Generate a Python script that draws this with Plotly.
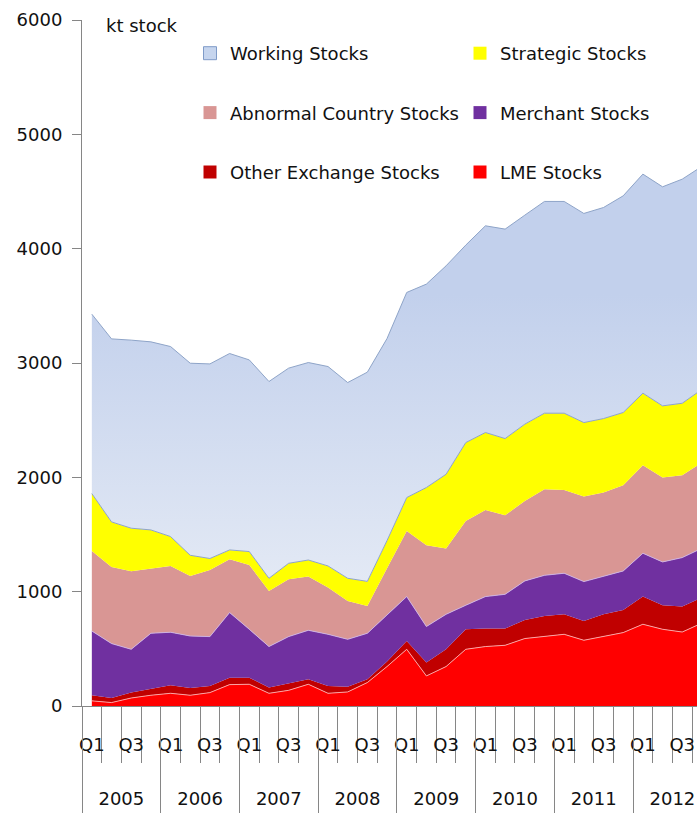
import plotly.graph_objects as go

# ---------------- data (kt) ----------------
years = ["2005", "2006", "2007", "2008", "2009", "2010", "2011", "2012"]
quarters = ["Q1", "Q2", "Q3", "Q4"]

lme_stocks = [45, 30, 70, 94, 111, 94, 117, 187, 190, 111, 137, 190, 111, 123, 205, 345,
              496, 263, 345, 496, 520, 531, 590, 607, 627, 575, 607, 642, 715, 671, 647, 725]
other_exchange = [50, 40, 47, 58, 70, 63, 58, 61, 58, 50, 62, 43, 64, 46, 30, 45,
                  73, 117, 151, 175, 157, 146, 162, 180, 175, 169, 195, 198, 242, 210, 223, 225]
merchant = [561, 476, 379, 484, 464, 455, 432, 569, 423, 359, 408, 429, 452, 414, 401, 406,
            388, 315, 306, 210, 280, 300, 342, 356, 359, 344, 335, 341, 379, 379, 428, 430]
abnormal_country = [700, 670, 682, 566, 580, 525, 583, 466, 563, 486, 501, 470, 409, 336, 239, 409,
                    574, 711, 575, 738, 758, 691, 700, 753, 729, 744, 730, 750, 770, 738, 720, 750]
strategic = [502, 394, 377, 338, 257, 181, 100, 82, 117, 111, 140, 145, 189, 198, 215, 242,
             292, 505, 650, 685, 677, 671, 671, 665, 671, 647, 647, 636, 630, 627, 630, 640]
working = [1569, 1601, 1645, 1645, 1662, 1680, 1702, 1718, 1676, 1721, 1707, 1727, 1744, 1712, 1830, 1767,
           1794, 1779, 1823, 1727, 1808, 1832, 1828, 1852, 1852, 1829, 1846, 1895, 1916, 1916, 1960, 1950]

y_ticks = [0, 1000, 2000, 3000, 4000, 5000, 6000]

# ---------------- derived categories ----------------
cat_year = [y for y in years for q in quarters]
cat_quarter = [q for y in years for q in quarters]
idx = list(range(len(cat_quarter)))

q_tickvals = [i for i, q in enumerate(cat_quarter) if q in ("Q1", "Q3")]
q_ticktext = [cat_quarter[i] for i in q_tickvals]
boundaries = [i - 0.5 for i in idx] + [len(idx) - 0.5]
year_centers = [sum(i for i in idx if cat_year[i] == y) / 4 for y in years]
year_bounds = [i - 0.5 for i in idx if cat_quarter[i] == "Q1"] + [len(idx) - 0.5]

FONT = "DejaVu Sans"
FS = 18
TXT = "#111111"
AX = "#868686"
BORDER = "#8EA4C8"

series = [
    ("LME Stocks", lme_stocks, "#FF0000", dict(color="rgba(255,175,175,0.9)", width=1)),
    ("Other Exchange Stocks", other_exchange, "#C00000", dict(color="#C00000", width=0)),
    ("Merchant Stocks", merchant, "#7030A0", dict(color="rgba(205,180,230,0.9)", width=1)),
    ("Abnormal Country Stocks", abnormal_country, "#D99694", dict(color="#D99694", width=0)),
    ("Strategic Stocks", strategic, "#FFFF00", dict(color=BORDER, width=1)),
    ("Working Stocks", working, "#C6D4EE", dict(color=BORDER, width=1)),
]

fig = go.Figure()
for name, vals, col, line in series:
    kw = {}
    if name == "Working Stocks":
        kw["fillgradient"] = dict(type="vertical", start=1000, stop=3600,
                                  colorscale=[[0, "#E4EAF5"], [1, "#C2D0EC"]])
    else:
        kw["fillcolor"] = col
    fig.add_trace(go.Scatter(
        x=idx, y=vals, name=name, stackgroup="one", mode="lines",
        line=line, showlegend=False, hoverinfo="skip", **kw))

# legend entries (two columns)
legend_items = [
    ("Working Stocks", "#C6D5EE", "legend", dict(color="#7F9BC8", width=1)),
    ("Strategic Stocks", "#FFFF00", "legend2", dict(width=0)),
    ("Abnormal Country Stocks", "#D99694", "legend", dict(width=0)),
    ("Merchant Stocks", "#7030A0", "legend2", dict(width=0)),
    ("Other Exchange Stocks", "#C00000", "legend", dict(width=0)),
    ("LME Stocks", "#FF0000", "legend2", dict(width=0)),
]
for name, col, lg, mline in legend_items:
    fig.add_trace(go.Scatter(
        x=[None], y=[None], mode="markers", name=name, legend=lg, legendgroup=name,
        marker=dict(symbol="square", size=13, color=col, line=mline),
        hoverinfo="skip"))

# dummy traces for the extra category axes
for ax in ["x2", "x3", "x4"]:
    fig.add_trace(go.Scatter(x=[None], y=[None], xaxis=ax, yaxis="y",
                             showlegend=False, hoverinfo="skip"))

R = [-0.5, 30.75]
common = dict(range=R, autorange=False, showgrid=False, zeroline=False,
              fixedrange=True, automargin=False)

PW, PH, L, B = 615, 686, 82, 107

fig.update_layout(
    width=697, height=813,
    margin=dict(l=L, r=0, t=20, b=B, autoexpand=False),
    paper_bgcolor="white", plot_bgcolor="white",
    font=dict(family=FONT, size=FS, color=TXT),
    xaxis=dict(**common, tickmode="array", tickvals=boundaries,
               ticktext=["" for _ in boundaries],
               ticks="outside", ticklen=56, tickwidth=1, tickcolor=AX,
               showline=True, linecolor=AX, linewidth=1),
    xaxis2=dict(**common, overlaying="x", anchor="y", side="bottom",
                tickmode="array", tickvals=q_tickvals, ticktext=q_ticktext,
                ticks="outside", ticklen=22, tickcolor="rgba(0,0,0,0)",
                showline=False, tickfont=dict(size=FS, color=TXT)),
    xaxis3=dict(**common, overlaying="x", anchor="y", side="bottom",
                tickmode="array", tickvals=year_bounds,
                ticktext=["" for _ in year_bounds],
                ticks="outside", ticklen=115, tickwidth=1, tickcolor=AX,
                showline=False),
    xaxis4=dict(**common, overlaying="x", anchor="y", side="bottom",
                tickmode="array", tickvals=year_centers, ticktext=years,
                ticks="outside", ticklen=76, tickcolor="rgba(0,0,0,0)",
                showline=False, tickfont=dict(size=FS, color=TXT)),
    yaxis=dict(range=[0, 6000], autorange=False, tickmode="array", tickvals=y_ticks,
               showgrid=False, zeroline=False, fixedrange=True, automargin=False,
               ticks="outside", ticklen=9, tickwidth=1, tickcolor=AX,
               showline=True, linecolor=AX, linewidth=1,
               ticklabelstandoff=6, tickfont=dict(size=FS, color=TXT)),
    legend=dict(x=(190 - L) / PW, y=(813 - B - 35) / PH,
                xanchor="left", yanchor="top", orientation="v",
                traceorder="grouped", tracegroupgap=33, bgcolor="rgba(0,0,0,0)",
                font=dict(size=FS, color=TXT), itemsizing="trace"),
    legend2=dict(x=(460 - L) / PW, y=(813 - B - 35) / PH,
                 xanchor="left", yanchor="top", orientation="v",
                 traceorder="grouped", tracegroupgap=33, bgcolor="rgba(0,0,0,0)",
                 font=dict(size=FS, color=TXT), itemsizing="trace"),
    annotations=[dict(text="kt stock", xref="paper", yref="paper",
                      x=(104 - L) / PW, y=(813 - B - 26) / PH,
                      xanchor="left", yanchor="middle", showarrow=False,
                      font=dict(size=FS, color=TXT))],
)

fig.write_html("out.html",
               config={"displayModeBar": False},
               post_script="document.body.style.margin='0px';"
                           "document.body.style.overflow='hidden';")
